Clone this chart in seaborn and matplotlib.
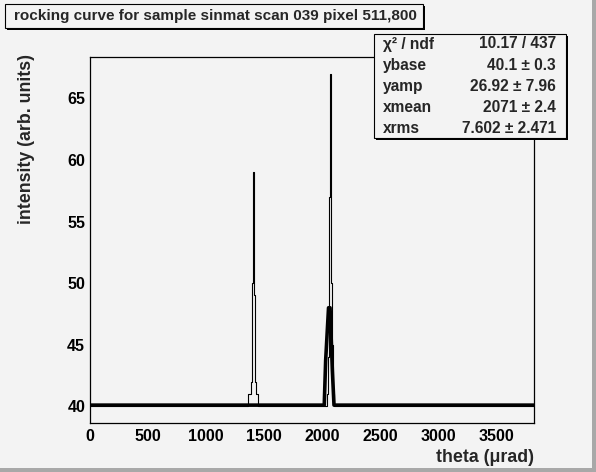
import numpy as np
import pandas as pd
import matplotlib
matplotlib.use('Agg')
import matplotlib.pyplot as plt
from matplotlib.patches import Rectangle
from matplotlib.ticker import MultipleLocator
import seaborn as sns

# histogram: 441 bins over 0..3825 urad, flat at 40 except the two peaks
THETA_MAX = 3825.0
N_BINS = 441
BASE_COUNT = 40.0

peak1_theta = [1366, 1375, 1383, 1392, 1401, 1409, 1418, 1427, 1435, 1444]
peak1_counts = [41, 41, 41, 42, 50, 59, 49, 42, 41, 41]
peak2_theta = [2042, 2051, 2060, 2068, 2077, 2086, 2094]
peak2_counts = [41, 44, 57, 67, 50, 45, 41]

# fitted curve as drawn (sampled polyline)
fit_theta = [0, 2018, 2030, 2055, 2068, 2088, 2102, 3825]
fit_value = [40.1, 40.1, 43.7, 48.0, 48.0, 42.9, 40.1, 40.1]

title = 'rocking curve for sample sinmat scan 039 pixel 511,800'
stat_names = ['\u03c7\u00b2 / ndf', 'ybase', 'yamp', 'xmean', 'xrms']
stat_values = ['10.17 / 437', '40.1 \u00b1 0.3', '26.92 \u00b1 7.96',
               '2071 \u00b1 2.4', '7.602 \u00b1 2.471']

BG = '#f3f3f3'
W, H = 596, 472

sns.set_style('white')
plt.rcParams['font.family'] = ['Liberation Sans', 'DejaVu Sans']
plt.rcParams['font.weight'] = 'bold'

width = THETA_MAX / N_BINS
edges = np.arange(N_BINS + 1) * width
counts = np.full(N_BINS, BASE_COUNT)
for th, c in zip(peak1_theta + peak2_theta, peak1_counts + peak2_counts):
    counts[int(th // width)] = c

hist_df = pd.DataFrame({'theta': edges, 'count': np.append(counts, counts[-1])})
fit_df = pd.DataFrame({'theta': fit_theta, 'value': fit_value})

fig = plt.figure(figsize=(W / 100, H / 100), dpi=100, facecolor=BG)
ax = fig.add_axes([90 / W, 1 - 423 / H, 444 / W, 366 / H])
ax.set_facecolor(BG)

sns.lineplot(data=hist_df, x='theta', y='count', ax=ax, color='black',
             lw=0.8, drawstyle='steps-post', estimator=None)
sns.lineplot(data=fit_df, x='theta', y='value', ax=ax, color='black',
             lw=2.6, estimator=None)

ax.set_xlim(0, THETA_MAX)
ax.set_ylim(38.65, 68.35)
ax.set_xlabel('')
ax.set_ylabel('')
ax.xaxis.set_major_locator(MultipleLocator(500))
ax.xaxis.set_minor_locator(MultipleLocator(100))
ax.yaxis.set_major_locator(MultipleLocator(5))
ax.yaxis.set_minor_locator(MultipleLocator(1))
ax.tick_params(axis='both', which='both', direction='in', top=False, right=False,
               width=0.8, labelsize=11.5, colors='black')
ax.tick_params(axis='x', which='major', length=6.5, pad=4.5)
ax.tick_params(axis='x', which='minor', length=3.3)
ax.tick_params(axis='y', which='major', length=7.2, pad=3.5)
ax.tick_params(axis='y', which='minor', length=4)
for lab in ax.get_xticklabels() + ax.get_yticklabels():
    lab.set_fontweight('bold')
for sp in ax.spines.values():
    sp.set_color('black')
    sp.set_linewidth(0.9)

fig.text(534 / W, 1 - 457 / H, 'theta (\u03bcrad)', ha='right', va='center',
         fontsize=12.8, fontweight='bold')
fig.text(27 / W, 1 - 54 / H, 'intensity (arb. units)', ha='center', va='top',
         rotation=90, fontsize=12.8, fontweight='bold')


def root_box(x0, y0, x1, y1):
    # box given in pixels from the top-left, with a black drop shadow
    fig.patches.append(Rectangle((x0 + 2, H - y1 - 2), x1 - x0, y1 - y0,
                                 transform=None, facecolor='black', edgecolor='none'))
    fig.patches.append(Rectangle((x0, H - y1), x1 - x0, y1 - y0, transform=None,
                                 facecolor=BG, edgecolor='black', lw=0.8))


root_box(5, 4, 423, 28)
fig.text(14 / W, 1 - 16 / H, title, ha='left', va='center', fontsize=11,
         fontweight='bold')

root_box(374, 34, 566, 138)
for i, (name, val) in enumerate(zip(stat_names, stat_values)):
    y = 1 - (44 + i * 21.1) / H
    fig.text(383 / W, y, name, ha='left', va='center', fontsize=11.2, fontweight='bold')
    fig.text(556 / W, y, val, ha='right', va='center', fontsize=11.2, fontweight='bold')

# canvas bevel
fig.patches.append(Rectangle((W - 4, 0), 4, H, transform=None, facecolor='#a8a8a8', edgecolor='none'))
fig.patches.append(Rectangle((0, 0), W, 4, transform=None, facecolor='#a8a8a8', edgecolor='none'))

fig.savefig('out.png', dpi=100, facecolor=BG)
